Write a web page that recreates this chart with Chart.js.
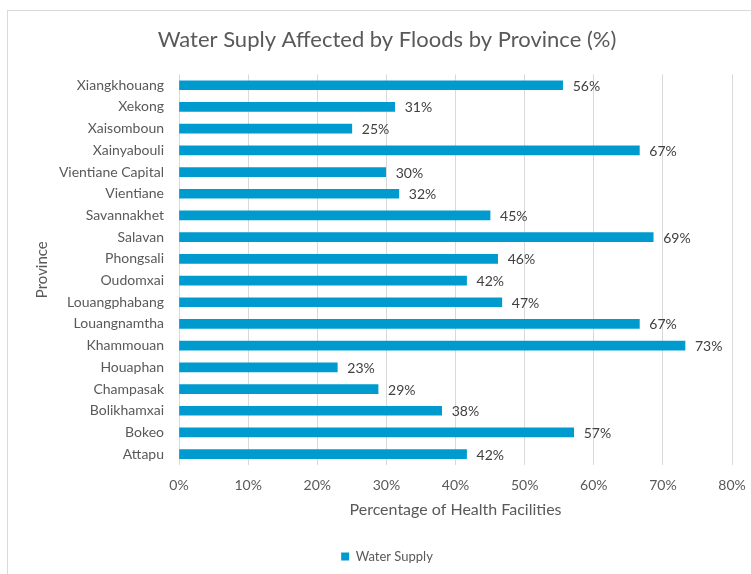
<!DOCTYPE html>
<html>
<head>
<meta charset="utf-8">
<script src="https://cdn.jsdelivr.net/npm/chart.js@4/dist/chart.umd.min.js"></script>
<style>
	body { margin: 0; background: #fff; }
	#wrap { position: relative; width: 751px; height: 574px; }
	#frame { position: absolute; left: 7px; top: 10px; right: -2px; bottom: -2px; border: 1px solid #d9d9d9; }
	canvas { position: absolute; left: 0; top: 0; }
</style>
</head>
<body>
<div id="wrap">
	<div id="frame"></div>
	<canvas id="chart" width="751" height="574"></canvas>
</div>
<script>
const provinces = [
	"Xiangkhouang", "Xekong", "Xaisomboun", "Xainyabouli", "Vientiane Capital",
	"Vientiane", "Savannakhet", "Salavan", "Phongsali", "Oudomxai",
	"Louangphabang", "Louangnamtha", "Khammouan", "Houaphan", "Champasak",
	"Bolikhamxai", "Bokeo", "Attapu"
];
const waterSupply = [
	55.5, 31.2, 25.0, 66.6, 29.9,
	31.8, 45.0, 68.6, 46.1, 41.6,
	46.7, 66.6, 73.2, 22.9, 28.8,
	38.0, 57.1, 41.6
];
const xTicks = [0, 10, 20, 30, 40, 50, 60, 70, 80];

const fontName = "Lato, 'Open Sans', sans-serif";
const textGrey = "#595959";

// value labels at the end of each bar
const barLabels = {
	id: "barLabels",
	afterDatasetsDraw(chart) {
		const ctx = chart.ctx;
		const meta = chart.getDatasetMeta(0);
		ctx.save();
		ctx.font = "14px " + fontName;
		ctx.fillStyle = "#404040";
		ctx.textAlign = "left";
		ctx.textBaseline = "middle";
		meta.data.forEach((bar, i) => {
			ctx.fillText(Math.round(waterSupply[i]) + "%", bar.x + 10, bar.y + 1);
		});
		ctx.restore();
	}
};

new Chart(document.getElementById("chart"), {
	type: "bar",
	data: {
		labels: provinces,
		datasets: [
			{
				label: "Water Supply",
				data: waterSupply,
				backgroundColor: "#009BCE",
				borderWidth: 0,
				barThickness: 9
			}
		]
	},
	options: {
		indexAxis: "y",
		responsive: false,
		animation: false,
		layout: { padding: { left: 42, right: 19, top: 10, bottom: 1 } },
		plugins: {
			title: {
				display: true,
				text: "Water Suply Affected by Floods by Province (%)",
				color: textGrey,
				font: { family: fontName, size: 22, weight: "normal" },
				padding: { top: 17, bottom: 21 }
			},
			legend: {
				position: "bottom",
				labels: {
					color: textGrey,
					font: { family: fontName, size: 13 },
					boxWidth: 8,
					boxHeight: 8,
					padding: 10
				}
			},
			tooltip: { enabled: false }
		},
		scales: {
			x: {
				min: 0,
				max: 80,
				afterBuildTicks: (axis) => {
					axis.ticks = xTicks.map((v) => ({ value: v }));
				},
				afterFit: (axis) => {
					axis.paddingLeft = 0;
					axis.paddingRight = 0;
				},
				ticks: {
					color: textGrey,
					font: { family: fontName, size: 14 },
					padding: 12,
					callback: (value) => value + "%"
				},
				grid: { color: "#d9d9d9", drawTicks: false },
				border: { display: false },
				title: {
					display: true,
					text: "Percentage of Health Facilities",
					color: textGrey,
					font: { family: fontName, size: 16 },
					padding: { top: -6, bottom: 21 }
				}
			},
			y: {
				afterFit: (axis) => {
					axis.width = 137;
				},
				ticks: {
					color: textGrey,
					font: { family: fontName, size: 14 },
					padding: 15,
					autoSkip: false
				},
				grid: { display: false, drawTicks: false },
				border: { display: false },
				title: {
					display: true,
					text: "Province",
					color: textGrey,
					font: { family: fontName, size: 15 },
					padding: { top: -9, bottom: 0 }
				}
			}
		}
	},
	plugins: [barLabels]
});
</script>
</body>
</html>
